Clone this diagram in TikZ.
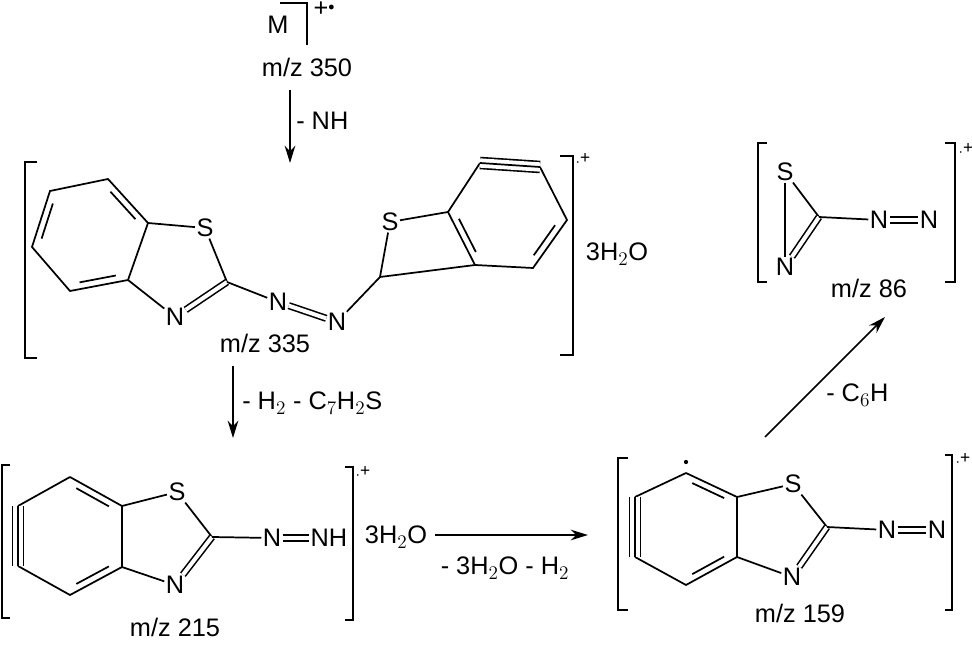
\documentclass[tikz,border=0pt]{standalone}
\usepackage{fontspec}
\setmainfont{Liberation Sans}
\usetikzlibrary{calc,arrows.meta}
\tikzset{
  atm/.style={inner sep=1pt, font=\fontsize{19}{22}\selectfont},
  lbl/.style={inner sep=0pt, font=\fontsize{19}{22}\selectfont},
  sm/.style={inner sep=0pt, font=\fontsize{13}{15}\selectfont},
  bd/.style={line width=1.3pt},
  dbl/.style={line width=1.2pt, double, double distance=3pt},
  trp/.style={line width=1.2pt, double, double distance=7pt},
  brk/.style={line width=1.3pt},
  arr/.style={line width=1.3pt, -{Stealth[length=13pt,width=8pt]}}
}
\newcommand{\innerbond}[3]{\draw[bd] ($(#1)!.14!(#2)!.13!(#3)$) -- ($(#2)!.14!(#1)!.13!(#3)$);}
\newcommand{\triplebond}[2]{\draw[trp] (#1)--(#2); \draw[bd] (#1)--(#2);}
\begin{document}
\begin{tikzpicture}[x=0.75pt,y=-0.75pt]
\useasboundingbox (0,0) rectangle (972,645);
% ---- M
\node[lbl] (M) at (278,25) {M};
\draw[brk] (280,3) -- (307,3) -- (307,45);
\node[lbl] (Mch) at (324,9) {+\raisebox{4pt}{\fontsize{9}{9}\selectfont$\bullet$}};
\node[lbl] (mz350) at (307,67) {m/z 350};
\coordinate (a1s) at (290,90); \coordinate (a1e) at (290,163);
\draw[arr] (a1s) -- (a1e);
\node[lbl,anchor=west] (lNH) at (296,121) {- NH};
% ---- mol 335
\draw[brk] (37,162) -- (25,162) -- (25,358) -- (37,358);
\draw[brk] (560,156) -- (573,156) -- (573,355) -- (560,355);
\node[sm] (ch1) at (583,160) {$\cdot$\raisebox{2pt}{+}};
\node[lbl] (w1) at (617,254) {3H$_2$O};
\coordinate (p1) at (108,179); \coordinate (p2) at (50,191); \coordinate (p3) at (32,247);
\coordinate (p4) at (70,291); \coordinate (p5) at (128,280); \coordinate (p6) at (148,223);
\coordinate (pc) at (89,235);
\node[atm] (S1) at (205,228) {S};
\coordinate (C21) at (227,282);
\node[atm] (N1) at (175,317) {N};
\node[atm] (Na1) at (278,302) {N};
\node[atm] (Nb1) at (337,322) {N};
\coordinate (CH) at (380,277);
\node[atm] (S2) at (390,222) {S};
\coordinate (b1) at (448,212); \coordinate (b2) at (475,265); \coordinate (b3) at (480,163);
\coordinate (b4) at (540,167); \coordinate (b5) at (567,220); \coordinate (b6) at (533,268);
\coordinate (bc) at (507,215);
\draw[bd] (p1)--(p2)--(p3)--(p4)--(p5)--(p6)--cycle;
\innerbond{p2}{p3}{pc} \innerbond{p1}{p6}{pc} \innerbond{p4}{p5}{pc}
\draw[bd] (p6)--(S1); \draw[bd] (S1)--(C21); \draw[dbl] (C21)--(N1); \draw[bd] (N1)--(p5);
\draw[bd] (C21)--(Na1); \draw[dbl] (Na1)--(Nb1); \draw[bd] (Nb1)--(CH);
\draw[bd] (CH)--(S2); \draw[bd] (S2)--(b1); \draw[bd] (CH)--(b2);
\draw[bd] (b1)--(b2)--(b6)--(b5)--(b4); \draw[bd] (b3)--(b1);
\triplebond{b3}{b4}
\innerbond{b1}{b2}{bc} \innerbond{b5}{b6}{bc}
\node[lbl] (mz335) at (265,343) {m/z 335};
\coordinate (a2s) at (233,366); \coordinate (a2e) at (233,438);
\draw[arr] (a2s) -- (a2e);
\node[lbl,anchor=west] (lC7) at (242,403) {- H$_2$ - C$_7$H$_2$S};
% ---- mol 215
\draw[brk] (10,465) -- (2,465) -- (2,618) -- (10,618);
\draw[brk] (345,467) -- (353,467) -- (353,620) -- (345,620);
\node[sm] (ch2) at (363,473) {$\cdot$\raisebox{2pt}{+}};
\coordinate (c1) at (70,477); \coordinate (c2) at (18,506); \coordinate (c3) at (18,566);
\coordinate (c4) at (70,595); \coordinate (c5) at (122,567); \coordinate (c6) at (122,506);
\coordinate (cc) at (70,536);
\node[atm] (S3) at (177,492) {S};
\coordinate (C23) at (212,537);
\node[atm] (N3) at (175,585) {N};
\node[atm] (Na3) at (272,538) {N};
\node[atm] (NH3) at (329,538) {NH};
\draw[bd] (c1)--(c2); \draw[bd] (c3)--(c4)--(c5)--(c6)--(c1);
\triplebond{c2}{c3}
\innerbond{c1}{c6}{cc} \innerbond{c4}{c5}{cc}
\draw[bd] (c6)--(S3); \draw[bd] (S3)--(C23); \draw[dbl] (C23)--(N3); \draw[bd] (N3)--(c5);
\draw[bd] (C23)--(Na3); \draw[dbl] (Na3)--(NH3);
\node[lbl] (mz215) at (175,627) {m/z 215};
\node[lbl] (w2) at (396,537) {3H$_2$O};
\coordinate (a3s) at (435,535); \coordinate (a3e) at (588,535);
\draw[arr] (a3s) -- (a3e);
\node[lbl] (l3) at (505,568) {- 3H$_2$O - H$_2$};
% ---- mol 159
\draw[brk] (628,458) -- (618,458) -- (618,610) -- (628,610);
\draw[brk] (945,455) -- (952,455) -- (952,610) -- (945,610);
\node[sm] (ch3) at (963,460) {$\cdot$\raisebox{2pt}{+}};
\coordinate (d1) at (686,473); \coordinate (d2) at (635,497); \coordinate (d3) at (635,557);
\coordinate (d4) at (686,585); \coordinate (d5) at (737,557); \coordinate (d6) at (737,497);
\coordinate (dc) at (686,528);
\fill (686,462) circle (1.6pt);
\node[atm] (S4) at (793,484) {S};
\coordinate (C24) at (827,527);
\node[atm] (N4) at (792,577) {N};
\node[atm] (Na4) at (887,530) {N};
\node[atm] (Nb4) at (937,530) {N};
\draw[bd] (d1)--(d2); \draw[bd] (d3)--(d4)--(d5)--(d6)--(d1);
\triplebond{d2}{d3}
\innerbond{d1}{d6}{dc} \innerbond{d4}{d5}{dc}
\draw[bd] (d6)--(S4); \draw[bd] (S4)--(C24); \draw[dbl] (C24)--(N4); \draw[bd] (N4)--(d5);
\draw[bd] (C24)--(Na4); \draw[dbl] (Na4)--(Nb4);
\node[lbl] (mz159) at (800,613) {m/z 159};
\coordinate (a4s) at (765,437); \coordinate (a4e) at (885,317);
\draw[arr] (a4s) -- (a4e);
\node[lbl,anchor=west] (l4) at (826,395) {- C$_6$H};
% ---- mol 86
\draw[brk] (767,143) -- (758,143) -- (758,282) -- (767,282);
\draw[brk] (945,143) -- (955,143) -- (955,282) -- (945,282);
\node[sm] (ch4) at (966,150) {$\cdot$\raisebox{2pt}{+}};
\node[atm] (S5) at (785,172) {S};
\coordinate (C5) at (819,217);
\node[atm] (N5) at (785,267) {N};
\node[atm] (Na5) at (879,220) {N};
\node[atm] (Nb5) at (929,220) {N};
\draw[bd] (S5)--(N5); \draw[bd] (S5)--(C5); \draw[dbl] (C5)--(N5);
\draw[bd] (C5)--(Na5); \draw[dbl] (Na5)--(Nb5);
\node[lbl] (mz86) at (869,288) {m/z 86};
\end{tikzpicture}
\end{document}
